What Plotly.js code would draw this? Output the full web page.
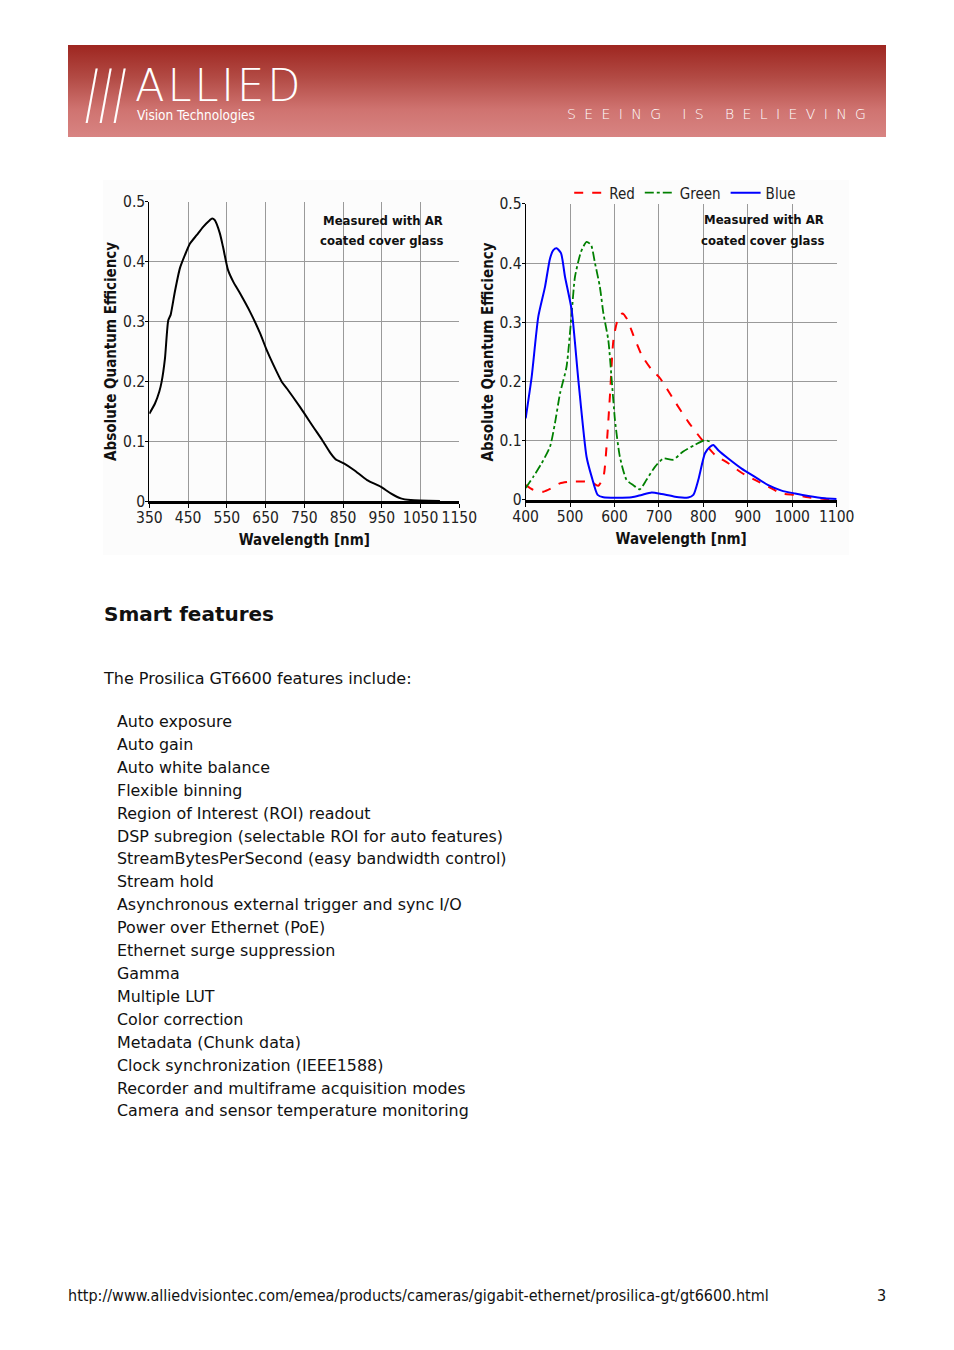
<!DOCTYPE html>
<html>
<head>
<meta charset="utf-8">
<script src="https://cdn.plot.ly/plotly-3.0.1.min.js"></script>
<style>
  html, body { margin:0; padding:0; background:#fff; }
  body { width:954px; height:1350px; position:relative; overflow:hidden; font-family:"DejaVu Sans", sans-serif; color:#111; }
  #header { position:absolute; left:68px; top:45px; width:818px; height:92px;
    background: linear-gradient(to bottom, #9e2620 0%, #b24a44 35%, #cf7370 70%, #d88482 100%); }
  #slashes { position:absolute; left:17px; top:17px; color:#fff; font-family:"DejaVu Sans"; font-weight:200; font-size:66px; letter-spacing:1px; transform:scaleX(0.6); transform-origin:left top; line-height:1; white-space:nowrap; }
  #allied { position:absolute; left:67px; top:24px; color:#fff; font-family:"DejaVu Sans"; font-weight:200; font-size:44px; letter-spacing:3px; transform:scaleX(0.98); transform-origin:left top; line-height:0.75; white-space:nowrap; }
  #vt { position:absolute; left:69px; top:64px; color:#fff; font-family:"DejaVu Sans Condensed","DejaVu Sans"; font-size:13.5px; line-height:1; white-space:nowrap; }
  #seeing { position:absolute; left:499px; top:62px; color:#fff; font-family:"DejaVu Sans"; font-weight:200; font-size:14px; letter-spacing:8.4px; line-height:1; white-space:nowrap; }
  #chartbg { position:absolute; left:103px; top:180px; width:746px; height:375px; background:#fcfcfc; }
  #chart { position:absolute; left:100px; top:180px; width:760px; height:380px; }
  #h2 { position:absolute; left:104px; top:604px; font-weight:bold; font-size:20px; line-height:1; }
  #intro { position:absolute; left:104px; top:669px; font-size:16px; line-height:1.2; }
  #list { position:absolute; left:117px; top:711px; font-size:15.9px; line-height:22.9px; }
  #footer { position:absolute; left:68px; top:1288px; font-family:"DejaVu Sans Condensed","DejaVu Sans"; font-size:16px; line-height:1; white-space:nowrap; }
  #page { position:absolute; left:877px; top:1288px; font-family:"DejaVu Sans Condensed","DejaVu Sans"; font-size:16px; line-height:1; }
</style>
</head>
<body>
<div id="header">
  <div id="slashes">///</div>
  <div id="allied">ALLIED</div>
  <div id="vt">Vision Technologies</div>
  <div id="seeing">SEEING IS BELIEVING</div>
</div>
<div id="chartbg"></div>
<div id="chart"></div>
<div id="h2">Smart features</div>
<div id="intro">The Prosilica GT6600 features include:</div>
<div id="list"></div>
<div id="footer">http://www.alliedvisiontec.com/emea/products/cameras/gigabit-ethernet/prosilica-gt/gt6600.html</div>
<div id="page">3</div>
<script>
// ---- Data ----
const monoWavelength = [350,364.6,375.8,381.7,390.3,398.9,405,416,429,442,455,472,489,506,512,519,532,540,553,566.8,584,610,636,653,670.5,692,705,740,774,796,817.5,830.5,852,878,912,947,973,999,1024.7,1100];
const monoQE = [0.146,0.163,0.183,0.199,0.238,0.302,0.311,0.350,0.389,0.411,0.430,0.444,0.458,0.469,0.472,0.469,0.447,0.425,0.386,0.366,0.347,0.316,0.280,0.252,0.227,0.199,0.188,0.156,0.123,0.102,0.080,0.070,0.063,0.052,0.035,0.024,0.013,0.0045,0.0017,0.0];

const redWavelength = [400,417,440,458.5,477,503.5,533.5,552,563.5,575,582,590,597.5,607,617.6,627,642,661,683.6,702,736,766,800,826,856,886,916,946,976,1006,1036,1073.7,1100];
const redQE = [0.025,0.017,0.014,0.020,0.028,0.031,0.031,0.028,0.024,0.039,0.090,0.180,0.270,0.304,0.315,0.307,0.279,0.245,0.220,0.206,0.166,0.132,0.0985,0.076,0.062,0.046,0.034,0.0225,0.011,0.0085,0.0045,0.0017,0.0];

const greenWavelength = [400,417,436,454.8,466,477.3,492,503.5,511,524.5,537,547,556,567,575,586,593.6,601,612,627,642,657,672,691,709.8,732,754.6,780.8,803.6,815];
const greenQE = [0.020,0.039,0.062,0.090,0.130,0.180,0.225,0.315,0.377,0.419,0.436,0.431,0.400,0.360,0.315,0.270,0.203,0.135,0.073,0.034,0.025,0.018,0.034,0.056,0.070,0.068,0.082,0.093,0.101,0.0985];

const blueWavelength = [400,413.5,428.5,443.5,454.8,462.3,469.8,479.5,488.5,503.5,518.5,537,548.6,562,574.8,638.6,661,683.6,706,736,766,777.4,788.6,803.6,815,822.4,833.6,856,886,916,946,976,1006,1036,1073.7,1100];
const blueQE = [0.138,0.208,0.310,0.360,0.408,0.422,0.425,0.417,0.377,0.321,0.203,0.073,0.039,0.0085,0.0045,0.0045,0.0085,0.0124,0.010,0.0056,0.004,0.0085,0.034,0.079,0.090,0.093,0.084,0.070,0.053,0.039,0.025,0.0158,0.011,0.0068,0.0028,0.0017];

const leftTicks = [350,450,550,650,750,850,950,1050,1150];
const rightTicks = [400,500,600,700,800,900,1000,1100];
const qeTicks = [0,0.1,0.2,0.3,0.4,0.5];
const seriesNames = ["Red","Green","Blue"];
const noteLines = ["Measured with AR","coated cover glass"];
const features = ["Auto exposure","Auto gain","Auto white balance","Flexible binning","Region of Interest (ROI) readout","DSP subregion (selectable ROI for auto features)","StreamBytesPerSecond (easy bandwidth control)","Stream hold","Asynchronous external trigger and sync I/O","Power over Ethernet (PoE)","Ethernet surge suppression","Gamma","Multiple LUT","Color correction","Metadata (Chunk data)","Clock synchronization (IEEE1588)","Recorder and multiframe acquisition modes","Camera and sensor temperature monitoring"];

document.getElementById('list').innerHTML = features.map(f => '<div>' + f + '</div>').join('');

// ---- Chart ----
const cf = "DejaVu Sans Condensed, DejaVu Sans, sans-serif";
const traces = [
  {x: monoWavelength, y: monoQE, xaxis:'x', yaxis:'y', mode:'lines', line:{color:'#000', width:2, shape:'spline', smoothing:0.6}, showlegend:false, hoverinfo:'skip'},
  {x: redWavelength, y: redQE, xaxis:'x2', yaxis:'y2', mode:'lines', name: seriesNames[0], line:{color:'#ff0000', width:2, dash:'dash', shape:'spline', smoothing:0.6}},
  {x: greenWavelength, y: greenQE, xaxis:'x2', yaxis:'y2', mode:'lines', name: seriesNames[1], line:{color:'#008000', width:1.8, dash:'dashdot', shape:'spline', smoothing:0.6}},
  {x: blueWavelength, y: blueQE, xaxis:'x2', yaxis:'y2', mode:'lines', name: seriesNames[2], line:{color:'#0000ff', width:2, shape:'spline', smoothing:0.6}}
];

function xAxis(domain, range, ticks, anchor) {
  return {domain: domain, range: range, tickvals: ticks, ticktext: ticks.map(String), anchor: anchor,
    showgrid:true, gridcolor:'#9a9a9a', gridwidth:1, zeroline:false,
    showline:true, linecolor:'#000', linewidth:3, ticks:'outside', ticklen:4, tickcolor:'#000',
    ticklabelstandoff:-4,
    tickfont:{family:cf, size:15.5, color:'#222'},
    title:{text:'Wavelength [nm]', font:{family:cf, size:15, color:'#111', weight:'bold'}, standoff:9},
    automargin:false, fixedrange:true};
}
function yAxis(domain, anchor) {
  return {domain: domain, range:[0,0.5], tickvals: qeTicks, ticktext: qeTicks.map(String), anchor: anchor,
    showgrid:true, gridcolor:'#9a9a9a', gridwidth:1, zeroline:false,
    showline:true, linecolor:'#000', linewidth:1, ticks:'outside', ticklen:3, tickcolor:'#000',
    ticklabelstandoff:-3,
    tickfont:{family:cf, size:15.5, color:'#222'},
    title:{text:'Absolute Quantum Efficiency', font:{family:cf, size:15, color:'#111', weight:'bold'}, standoff:2},
    automargin:false, fixedrange:true};
}

function note(xr, yr, x, y1, y2) {
  return [
    {xref:xr, yref:yr, x:x, y:y1, xanchor:'right', yanchor:'middle', showarrow:false,
     text:noteLines[0], font:{family:cf, size:13, color:'#111', weight:'bold'}},
    {xref:xr, yref:yr, x:x, y:y2, xanchor:'right', yanchor:'middle', showarrow:false,
     text:noteLines[1], font:{family:cf, size:13, color:'#111', weight:'bold'}}
  ];
}

const layout = {
  width:760, height:380, margin:{l:0,r:0,t:0,b:0, autoexpand:false},
  paper_bgcolor:'rgba(0,0,0,0)', plot_bgcolor:'rgba(0,0,0,0)',
  xaxis: xAxis([0.0649,0.4728],[350,1150],leftTicks,'y'),
  yaxis: yAxis([0.155,0.943],'x'),
  xaxis2: xAxis([0.5601,0.9693],[400,1100],rightTicks,'y2'),
  yaxis2: yAxis([0.158,0.937],'x2'),
  legend:{orientation:'h', x:0.77, xanchor:'center', y:0.966, yanchor:'middle', font:{family:cf, size:15, color:'#222'}, itemwidth:30, bgcolor:'rgba(0,0,0,0)', tracegroupgap:0},
  annotations: note('x domain','y domain',0.955,0.937,0.87).concat(note('x2 domain','y2 domain',0.965,0.946,0.878)),
  showlegend:true
};
Plotly.newPlot('chart', traces, layout, {staticPlot:true, displayModeBar:false});
</script>
</body>
</html>
